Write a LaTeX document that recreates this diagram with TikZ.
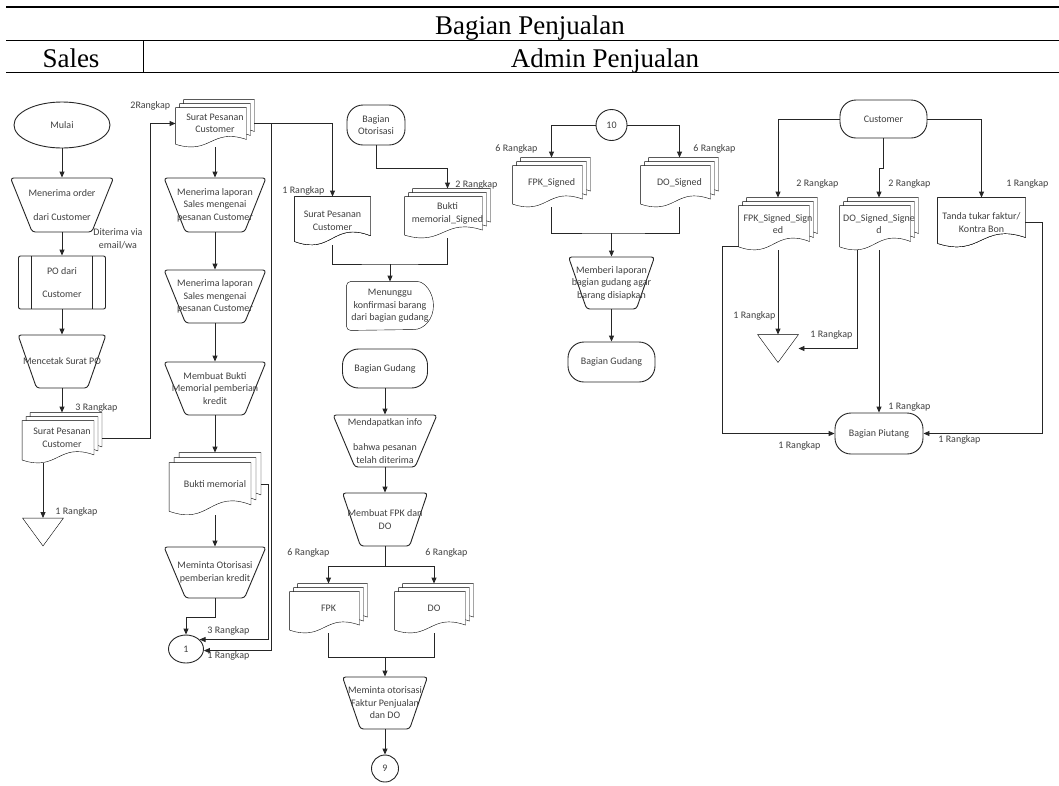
\documentclass[tikz,border=0pt]{standalone}
\usepackage{fontspec}
\setmainfont{Carlito}
\newfontfamily\headfont{Liberation Serif}
\usetikzlibrary{shapes.geometric,shapes.misc,arrows.meta,calc,backgrounds}

\begin{document}
\begin{tikzpicture}[x=1pt,y=-1pt,line width=0.9pt,color=black!85,text=black!75,
  font=\fontsize{10}{12.5}\selectfont,
  arr/.style={-{Triangle[length=6pt,width=5pt]}},
  head/.style={anchor=base,font=\headfont\fontsize{27}{30}\selectfont,text=black},
  start/.style={draw,ellipse,minimum width=96,minimum height=46},
  term/.style={draw,rectangle,rounded corners=16pt,align=center,inner sep=2pt,minimum width=87,minimum height=39},
  manual/.style={draw,trapezium,shape border rotate=180,trapezium stretches=true,trapezium angle=70,
    rounded corners=3pt,inner sep=2pt,minimum width=102,minimum height=53,
    label={[align=center]center:#1}},
  predef/.style={draw,rectangle,rounded corners=2pt,align=center,minimum width=87,minimum height=53,
    path picture={
      \draw ([xshift=13pt]path picture bounding box.north west) -- ([xshift=13pt]path picture bounding box.south west);
      \draw ([xshift=-13pt]path picture bounding box.north east) -- ([xshift=-13pt]path picture bounding box.south east);}},
  doc/.style={inner sep=0pt,align=center},
  delay/.style={inner sep=0pt,align=center},
  store/.style={inner sep=0pt,minimum width=40,minimum height=27},
  conn/.style={draw,circle,inner sep=0pt},
  lbl/.style={anchor=west,inner sep=0pt}]

\useasboundingbox (0,0) rectangle (1059,785);

\draw[line width=1.6pt,black] (6,7) -- (1059,7);
\draw[line width=1pt,black] (6,40) -- (1059,40);
\draw[line width=1pt,black] (6,72) -- (1059,72);
\draw[line width=0.7pt,black] (143,40) -- (143,72);
\draw (530,34) node[head] (t1) {Bagian Penjualan};
\draw (71,67) node[head] (t2) {Sales};
\draw (605,67) node[head] (t3) {Admin Penjualan};

\draw (62,125) node[start] (a1) {Mulai};
\draw (62,205) node[manual={Menerima order\\[12pt]dari Customer}, minimum width=103, minimum height=54] (a2) {};
\draw (62,282.5) node[predef] (a3) {PO dari\\[11pt]Customer};
\draw (62,361.5) node[manual={Mencetak Surat PO}, minimum width=88] (a4) {};
\draw (62,438) node[doc, minimum width=79, minimum height=50] (a5) {Surat Pesanan\\Customer};
\draw (43,532) node[store] (a6) {};

\draw (215,123.5) node[doc, minimum width=78, minimum height=47] (b1) {Surat Pesanan\\Customer};
\draw (215,205) node[manual={Menerima laporan\\Sales mengenai\\pesanan Customer}, minimum height=54] (b2) {};
\draw (215,296.5) node[manual={Menerima laporan\\Sales mengenai\\pesanan Customer}] (b3) {};
\draw (215,388.5) node[manual={Membuat Bukti\\Memorial pemberian\\kredit}] (b4) {};
\draw (215,484) node[doc, minimum width=91, minimum height=62] (b5) {Bukti memorial};
\draw (215,572.5) node[manual={Meminta Otorisasi\\pemberian kredit}, minimum height=51] (b6) {};
\draw (186,649) node[conn, ellipse, minimum width=35, minimum height=28] (b7) {1};

\draw (376,125) node[term, minimum width=58, minimum height=40] (c1) {Bagian\\Otorisasi};
\draw (332.5,221) node[doc, minimum width=75, minimum height=48] (c2) {Surat Pesanan\\Customer};
\draw (447.5,213.5) node[doc, minimum width=85, minimum height=49] (c3) {Bukti\\memorial\_Signed};
\draw (390,306) node[delay, minimum width=86, minimum height=48] (c4) {Menunggu\\konfirmasi barang\\dari bagian gudang};
\draw (385,368.5) node[term, minimum width=85] (c5) {Bagian Gudang};
\draw (385,441) node[manual={Mendapatkan info\\[12.5pt]bahwa pesanan\\telah diterima}, minimum width=104, minimum height=52] (c6) {};
\draw (385,519.5) node[manual={Membuat FPK dan\\DO}, minimum width=85] (c7) {};
\draw (328.5,608.5) node[doc, minimum width=77, minimum height=49] (c8) {FPK};
\draw (434,608.5) node[doc, minimum width=78, minimum height=49] (c9) {DO};
\draw (385,703) node[manual={Meminta otorisasi\\Faktur Penjualan\\dan DO}, minimum width=85, minimum height=52] (c10) {};
\draw (385,768.5) node[conn, minimum size=27] (c11) {9};
\coordinate (c23) at (390,264);
\coordinate (c78) at (385,566);
\coordinate (c89) at (385,657);

\draw (611.5,125) node[conn, minimum size=31] (d1) {10};
\draw (551.5,182.5) node[doc, minimum width=77, minimum height=49] (d2) {FPK\_Signed};
\draw (679.5,182.5) node[doc, minimum width=77, minimum height=49] (d3) {DO\_Signed};
\draw (611.5,283) node[manual={Memberi laporan\\bagian gudang agar\\barang disiapkan}, minimum width=86, minimum height=52] (d4) {};
\draw (611.5,362) node[term, minimum height=40] (d5) {Bagian Gudang};
\coordinate (d23) at (611.5,233);

\draw (883.5,119) node[term, minimum height=38] (e1) {Customer};
\draw (778,224) node[doc, minimum width=78, minimum height=52] (e2) {FPK\_Signed\_Sign\\ed};
\draw (879,224) node[doc, minimum width=78, minimum height=52] (e3) {DO\_Signed\_Signe\\d};
\draw (981.5,222.5) node[doc, minimum width=87, minimum height=49] (e4) {Tanda tukar faktur/\\Kontra Bon};
\draw (778,348.5) node[store] (e5) {};
\draw (879,433.5) node[term, minimum width=88, minimum height=41] (e6) {Bagian Piutang};

\draw[arr] (a1) -- (a2);
\draw[arr] (a2) -- (a3);
\draw[arr] (a3) -- (a4);
\draw[arr] (a4) -- (a5);
\draw[arr] (a5.south -| a6.north) -- (a6);
\draw[arr] (a5.east) -- ++(48,0) |- (b1.west);

\draw[arr] (b1) -- (b2);
\draw[arr] (b2) -- (b3);
\draw[arr] (b3) -- (b4);
\draw[arr] (b4) -- (b5);
\draw[arr] (b5) -- (b6);
\draw[arr] (b6.south) -- ++(0,19) -| (b7);
\draw[arr] (b5.east) -- ++(7,0) |- (b7.35);
\draw[arr] (b1.east) -- ++(17,0) |- (b7.-5);
\draw[arr] (b1.east) -| (c2);

\draw[arr] (c1.south) -- ++(0,23) -| (c3);
\draw (c2.south) |- (c23) -| (c3.south);
\draw[arr] (c23) -- (c4);
\draw[arr] (c5) -- (c6);
\draw[arr] (c6) -- (c7);
\draw (c7.south) -- (c78);
\draw[arr] (c78) -| (c8);
\draw[arr] (c78) -| (c9);
\draw (c8.south) |- (c89) -| (c9.south);
\draw[arr] (c89) -- (c10);
\draw[arr] (c10) -- (c11);

\draw[arr] (d1) -| (d2);
\draw[arr] (d1) -| (d3);
\draw (d2.south) |- (d23) -| (d3.south);
\draw[arr] (d23) -- (d4);
\draw[arr] (d4) -- (d5);

\draw[arr] (e1) -| (e2);
\draw[arr] (e1.south) -- ++(0,30) -| (e3);
\draw[arr] (e1) -| (e4);
\draw[arr] (e2) -- (e5);
\draw[arr] ([yshift=-22pt]e2.west) -- ++(-16,0) |- (e6);
\draw[arr] ([xshift=-22pt]e3.south) |- (e5.east);
\draw[arr] (e3) -- (e6);
\draw[arr] (e4.east) -- ++(17,0) |- (e6);

\draw (130,106) node[lbl] (l1) {2Rangkap};
\draw (75,408) node[lbl] (l2) {3 Rangkap};
\draw (55,512) node[lbl] (l3) {1 Rangkap};
\draw (207,631) node[lbl] (l4) {3 Rangkap};
\draw (207,656) node[lbl] (l5) {1 Rangkap};
\draw (282,191) node[lbl] (l6) {1 Rangkap};
\draw (455,185) node[lbl] (l7) {2 Rangkap};
\draw (287,553) node[lbl] (l8) {6 Rangkap};
\draw (425,553) node[lbl] (l9) {6 Rangkap};
\draw (495,149) node[lbl] (l10) {6 Rangkap};
\draw (693,149) node[lbl] (l11) {6 Rangkap};
\draw (796,184) node[lbl] (l12) {2 Rangkap};
\draw (888,184) node[lbl] (l13) {2 Rangkap};
\draw (1006,184) node[lbl] (l14) {1 Rangkap};
\draw (733,316) node[lbl] (l15) {1 Rangkap};
\draw (810,335) node[lbl] (l16) {1 Rangkap};
\draw (888,407) node[lbl] (l17) {1 Rangkap};
\draw (778,446) node[lbl] (l18) {1 Rangkap};
\draw (938,440) node[lbl] (l19) {1 Rangkap};
\draw (118,239) node[align=center] (l20) {Diterima via\\email/wa};

\begin{scope}[on background layer]
  \fill[white] (0,0) rectangle (1059,785);
  \foreach \nm/\dd in {a5/4,b1/4,b5/5,c3/4,c8/4,c9/4,d2/4,d3/4,e2/4,e3/4,c2/0,e4/0}
    \foreach \kk in {2,1,0}
      \draw[fill=white] let \p1=(\nm.north west), \p2=(\nm.south east),
          \n1={\x2-\x1-2*\dd pt}, \n2={\y1-\y2-2*\dd pt},
          \n3={\x1+\kk*\dd pt}, \n4={\y2+\kk*\dd pt} in
        ({\n3},{\n4+\n2}) -- ({\n3+\n1},{\n4+\n2}) -- ({\n3+\n1},{\n4+0.2*\n2})
        .. controls ({\n3+0.5*\n1},{\n4+0.5*\n2}) and ({\n3+0.5*\n1},{\n4-0.2*\n2}) .. ({\n3},{\n4+0.08*\n2}) -- cycle;
  \foreach \nm in {a6,e5}
    \draw (\nm.north west) -- (\nm.north east) -- (\nm.south) -- cycle;
  \draw ([xshift=-20pt]c4.north east) arc[start angle=90,end angle=-90,x radius=20pt,y radius=24pt]
    [rounded corners=4pt] -- (c4.south west) -- (c4.north west) -- cycle;
\end{scope}
\end{tikzpicture}
\end{document}
